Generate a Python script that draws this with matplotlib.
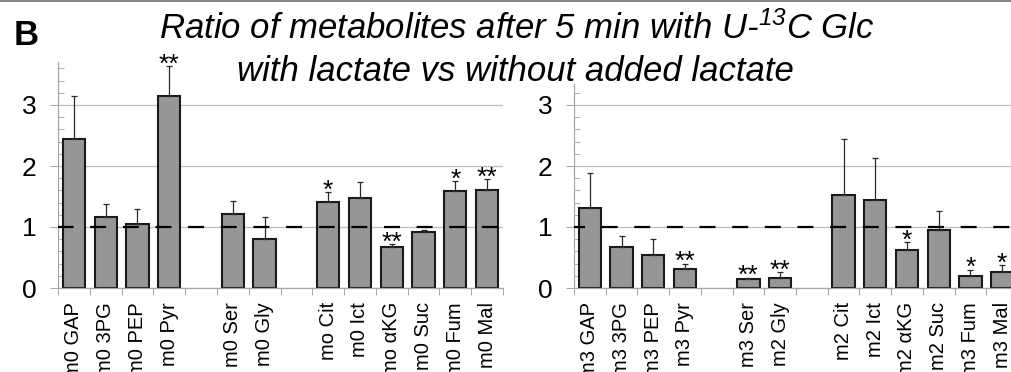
import numpy as np
import matplotlib
matplotlib.use('Agg')
import matplotlib.pyplot as plt
from matplotlib.lines import Line2D
from matplotlib.patches import Rectangle
from matplotlib.ticker import MultipleLocator, FixedLocator

plt.rcParams['font.family'] = ['Liberation Sans', 'DejaVu Sans']
plt.rcParams['mathtext.fontset'] = 'custom'
plt.rcParams['mathtext.rm'] = 'Liberation Sans:italic'
plt.rcParams['mathtext.it'] = 'Liberation Sans:italic'
plt.rcParams['lines.scale_dashes'] = False

nan = np.nan

# ---- data ----
left_labels = ['m0 GAP', 'm0 3PG', 'm0 PEP', 'm0 Pyr', '', 'm0 Ser', 'm0 Gly', '',
               'mo Cit', 'm0 Ict', 'mo αKG', 'm0 Suc', 'm0 Fum', 'm0 Mal']
left_values = [2.44, 1.17, 1.05, 3.14, nan, 1.21, 0.81, nan,
               1.41, 1.47, 0.68, 0.91, 1.59, 1.61]
left_err = [0.70, 0.21, 0.25, 0.50, nan, 0.21, 0.35, nan,
            0.16, 0.27, 0.04, 0.04, 0.16, 0.17]
left_sig = ['', '', '', '**', '', '', '', '', '*', '', '**', '', '*', '**']

right_labels = ['m3 GAP', 'm3 3PG', 'm3 PEP', 'm3 Pyr', '', 'm3 Ser', 'm2 Gly', '',
                'm2 Cit', 'm2 Ict', 'm2 αKG', 'm2 Suc', 'm3 Fum', 'm3 Mal']
right_values = [1.31, 0.67, 0.54, 0.31, nan, 0.14, 0.16, nan,
                1.52, 1.44, 0.63, 0.95, 0.19, 0.26]
right_err = [0.57, 0.18, 0.26, 0.09, nan, 0.03, 0.10, nan,
             0.92, 0.69, 0.12, 0.32, 0.11, 0.11]
right_sig = ['', '', '', '**', '', '**', '**', '', '', '', '*', '', '*', '*']

reference_ratio = 1.0
y_major = [0, 1, 2, 3]

W, H = 1011, 372
fig = plt.figure(figsize=(W / 100, H / 100), dpi=100)


def px_rect(x0, x1, ytop, ybot):
    return [x0 / W, 1 - ybot / H, (x1 - x0) / W, (ybot - ytop) / H]


def panel(rect, labels, values, errs, sigs, dash_offset):
    ax = fig.add_axes(rect)
    n = len(labels)
    x = np.arange(n)
    vals = np.array(values, dtype=float)
    errs = np.array(errs, dtype=float)
    ok = ~np.isnan(vals)
    ax.bar(x[ok], vals[ok], width=0.7, color='#969696', edgecolor='#1a1a1a',
           linewidth=1.5, zorder=2)
    ax.errorbar(x[ok], vals[ok], yerr=[np.zeros(ok.sum()), errs[ok]], fmt='none',
                ecolor='#2a2a2a', elinewidth=0.9, capsize=2, capthick=0.9, zorder=3)
    ax.axhline(reference_ratio, color='black', lw=1.6,
               linestyle=(dash_offset, (11.5, 12.0)), zorder=4)
    for xi, v, e, s in zip(x, vals, errs, sigs):
        if s:
            ax.annotate(s, (xi, v + e), xytext=(0, -4.0), textcoords='offset points',
                        ha='center', va='baseline', fontsize=19, zorder=5)
    ax.set_xlim(-0.5, n - 0.5)
    ax.set_ylim(0, 3.7)
    # y axis
    ax.yaxis.set_major_locator(FixedLocator(y_major))
    ax.yaxis.set_minor_locator(MultipleLocator(0.2))
    ax.tick_params(axis='y', which='major', length=5.5, width=0.75, color='#a6a6a6',
                   direction='out', labelsize=19, pad=10)
    ax.tick_params(axis='y', which='minor', length=4.3, width=0.75, color='#b0b0b0',
                   direction='in')
    ax.yaxis.grid(True, which='major', color='#bdbdbd', lw=0.9)
    ax.set_axisbelow(True)
    # x axis
    major = np.arange(-0.5, n, 1.0)
    ax.set_xticks(major)
    ax.set_xticklabels([''] * len(major))
    ax.set_xticks(x, minor=True)
    ax.set_xticklabels(labels, minor=True, rotation=90, fontsize=14.5)
    ax.tick_params(axis='x', which='major', length=5, width=0.75, color='#a6a6a6',
                   direction='out')
    ax.tick_params(axis='x', which='minor', length=0, pad=10)
    for sp in ['top', 'right']:
        ax.spines[sp].set_visible(False)
    for sp in ['left', 'bottom']:
        ax.spines[sp].set_color('#a6a6a6')
        ax.spines[sp].set_linewidth(0.9)
    return ax


ax1 = panel(px_rect(58, 503, 288 - 3.7 * 61, 288), left_labels, left_values,
            left_err, left_sig, 0.3)
ax2 = panel(px_rect(574, 1018, 288 - 3.7 * 61, 288), right_labels, right_values,
            right_err, right_sig, 3.6)

# white box behind title that hides the top of the right axis
fig.patches.append(Rectangle((560 / W, 1 - 84 / H), (W - 560) / W, 84 / H,
                             transform=fig.transFigure, facecolor='white',
                             edgecolor='none', zorder=1))

fig.text(517 / W, 1 - 39 / H, r'Ratio of metabolites after 5 min with U-$^{13}$C Glc',
         ha='center', va='baseline', fontsize=25, style='italic', zorder=3)
fig.text(515 / W, 1 - 81 / H, 'with lactate vs without added lactate',
         ha='center', va='baseline', fontsize=25, style='italic', zorder=3)
fig.text(14 / W, 1 - 45 / H, 'B', ha='left', va='baseline', fontsize=25,
         fontweight='bold', zorder=3)

fig.add_artist(Line2D([0, 1], [1 - 0.6 / H, 1 - 0.6 / H], transform=fig.transFigure,
                      color='#707070', lw=1.2, zorder=6))

fig.savefig('out.png', dpi=100)
